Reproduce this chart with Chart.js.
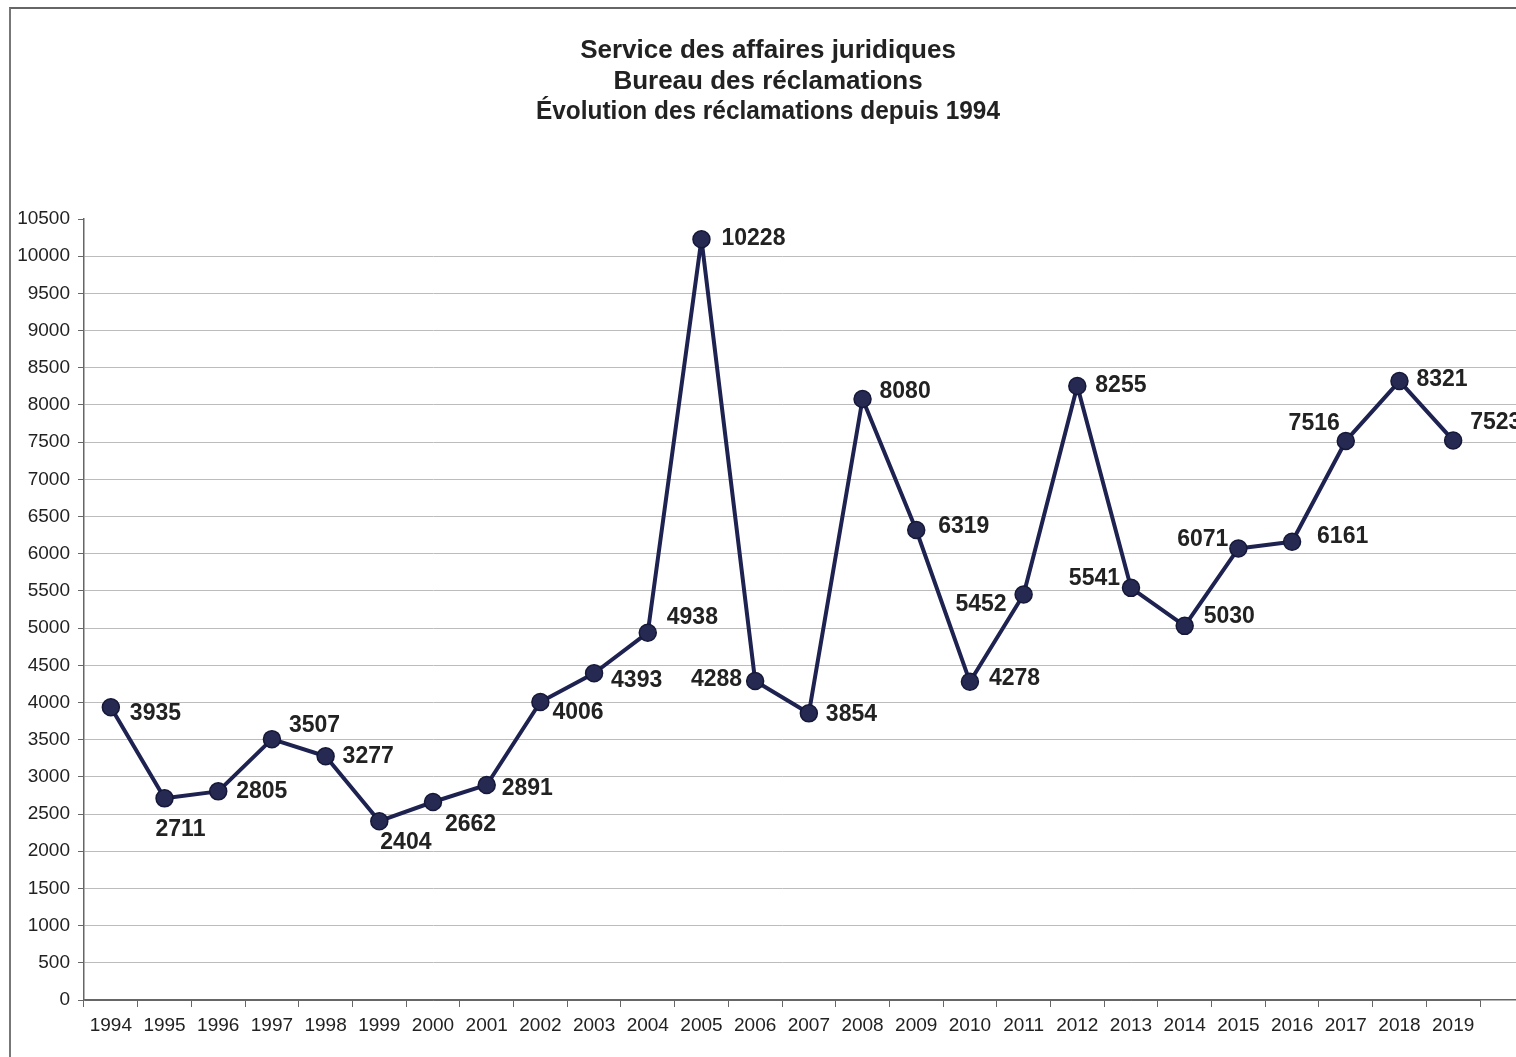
<!DOCTYPE html>
<html>
<head>
<meta charset="utf-8">
<script src="https://cdn.jsdelivr.net/npm/chart.js@4/dist/chart.umd.min.js"></script>
<style>
  html, body { margin: 0; padding: 0; background: #fff; }
  #wrap { position: relative; width: 1516px; height: 1057px; }
  #frame { position: absolute; left: 9px; top: 7px; right: 0; bottom: 0;
           border-left: 2px solid #777; border-top: 2px solid #666; pointer-events: none; }
</style>
</head>
<body>
<div id="wrap">
  <canvas id="c" width="1516" height="1057"></canvas>
  <div id="frame"></div>
</div>
<script>
const titleLines = [
  "Service des affaires juridiques",
  "Bureau des réclamations",
  "Évolution des réclamations depuis 1994"
];
const years = ["1994","1995","1996","1997","1998","1999","2000","2001","2002","2003","2004","2005","2006","2007","2008","2009","2010","2011","2012","2013","2014","2015","2016","2017","2018","2019"];
const claims = [3935,2711,2805,3507,3277,2404,2662,2891,4006,4393,4938,10228,4288,3854,8080,6319,4278,5452,8255,5541,5030,6071,6161,7516,8321,7523];
const yMin = 0, yMax = 10500, yStep = 500;

// label placement: [dx, dy, textAlign] relative to the point centre
const labelPlacement = [
  [19,6,'left'],[-9,31,'left'],[18,0,'left'],[17,-13,'left'],[17,0,'left'],
  [1,21,'left'],[12,23,'left'],[15,4,'left'],[12,11,'left'],[17,7,'left'],
  [19,-15,'left'],[20,-1,'left'],[-13,-1,'right'],[17,1,'left'],[17,-7,'left'],
  [22,-3,'left'],[19,-3,'left'],[-17,10,'right'],[18,0,'left'],[-11,-9,'right'],
  [19,-9,'left'],[-10,-9,'right'],[25,-5,'left'],[-6,-17,'right'],[17,-1,'left'],
  [17,-18,'left']
];

const GRID = '#bcbcbc', AXIS = '#666', TEXT = '#222';
const FONT = '"Liberation Sans", Arial, sans-serif';

const align = (px, w) => Math.round(px - w / 2) + w / 2;

const titleBlock = {
  id: 'titleBlock',
  afterDraw(chart) {
    const ctx = chart.ctx;
    const maxW = [380, 312, 464];
    ctx.save();
    ctx.font = 'bold 26px ' + FONT;
    ctx.fillStyle = TEXT;
    ctx.textAlign = 'center';
    ctx.textBaseline = 'middle';
    titleLines.forEach((t, i) => ctx.fillText(t, 768, 51 + i * 30.5, maxW[i]));
    ctx.restore();
  }
};

const valueLabels = {
  id: 'valueLabels',
  afterDatasetsDraw(chart) {
    const ctx = chart.ctx;
    const meta = chart.getDatasetMeta(0);
    ctx.save();
    ctx.font = 'bold 23px ' + FONT;
    ctx.fillStyle = TEXT;
    ctx.textBaseline = 'middle';
    meta.data.forEach((pt, i) => {
      const p = labelPlacement[i];
      ctx.textAlign = p[2];
      ctx.fillText(String(claims[i]), pt.x + p[0], pt.y + p[1]);
    });
    ctx.restore();
  }
};

const extendGrid = {
  id: 'extendGrid',
  beforeDatasetsDraw(chart) {
    const ctx = chart.ctx, ys = chart.scales.y, area = chart.chartArea;
    ctx.save();
    ys.ticks.forEach(t => {
      if (t.value === yMax) return;
      const w = t.value === 0 ? 1.5 : 1;
      const y = align(ys.getPixelForValue(t.value), w);
      ctx.strokeStyle = t.value === 0 ? AXIS : GRID;
      ctx.lineWidth = w;
      ctx.beginPath();
      ctx.moveTo(area.right - 1, y);
      ctx.lineTo(chart.width, y);
      ctx.stroke();
    });
    ctx.restore();
  }
};

new Chart(document.getElementById('c'), {
  type: 'line',
  data: {
    labels: years,
    datasets: [{
      data: claims,
      borderColor: '#1e2250',
      borderWidth: 4,
      borderJoinStyle: 'round',
      borderCapStyle: 'round',
      pointRadius: 8.5,
      pointBackgroundColor: '#262a52',
      pointBorderColor: '#151838',
      pointBorderWidth: 1.5,
      tension: 0,
      fill: false
    }]
  },
  options: {
    responsive: false,
    animation: false,
    devicePixelRatio: 1,
    layout: { padding: { left: 0, right: 36, top: 219, bottom: 0 } },
    plugins: {
      legend: { display: false },
      tooltip: { enabled: false },
      title: { display: false }
    },
    scales: {
      x: {
        type: 'category',
        offset: true,
        grid: { display: true, drawOnChartArea: false, drawTicks: true, tickLength: 7, color: AXIS, offset: true },
        border: { display: true, color: AXIS, width: 1.5 },
        ticks: { color: TEXT, font: { family: FONT, size: 19 }, padding: 7, maxRotation: 0, autoSkip: false },
        afterFit(scale) { scale.height = 57; }
      },
      y: {
        min: yMin, max: yMax,
        ticks: {
          stepSize: yStep, color: TEXT, font: { family: FONT, size: 19 }, padding: 8,
          callback: v => String(v)
        },
        grid: {
          tickLength: 6,
          color: ctx => (ctx.tick && ctx.tick.value === yMax) ? 'rgba(0,0,0,0)' : (ctx.tick && ctx.tick.value === 0 ? AXIS : GRID),
          tickColor: AXIS,
          lineWidth: 1
        },
        border: { display: true, color: AXIS, width: 1.5 },
        afterFit(scale) { scale.width = 84; }
      }
    }
  },
  plugins: [extendGrid, valueLabels, titleBlock]
});
</script>
</body>
</html>
